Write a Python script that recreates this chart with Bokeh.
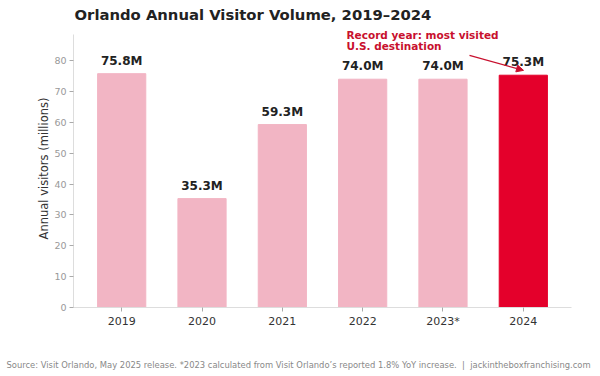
from bokeh.plotting import figure
from bokeh.models import Range1d, FixedTicker, ColumnDataSource, Label, Arrow, NormalHead, Title
from bokeh.embed import file_html
from bokeh.resources import INLINE
from bokeh.core.properties import value

years = ["2019", "2020", "2021", "2022", "2023*", "2024"]
visitors = [75.8, 35.3, 59.3, 74.0, 74.0, 75.3]
labels = ["75.8M", "35.3M", "59.3M", "74.0M", "74.0M", "75.3M"]
colors = ["#f2b5c4", "#f2b5c4", "#f2b5c4", "#f2b5c4", "#f2b5c4", "#e4002b"]
yticks = [0, 10, 20, 30, 40, 50, 60, 70, 80]

title_text = "Orlando Annual Visitor Volume, 2019\u20132024"
source_text = ("Source: Visit Orlando, May 2025 release. *2023 calculated from Visit Orlando\u2019s "
               "reported 1.8% YoY increase.\u00a0 |\u00a0 jackintheboxfranchising.com")
annotation_lines = ["Record year: most visited", "U.S. destination"]

xs = list(range(len(years)))
src = ColumnDataSource(dict(x=xs, top=visitors, color=colors, label=labels))

FONT = "DejaVu Sans"
# frame: x 73..571, y 28..307 (canvas px)
FL, FR, FT, FB = 73, 571, 28, 307
X0, X1, Y0 = -0.6, 5.6, 0
AX_TOP = 88.5
Y1 = AX_TOP * (FB - FT) / (FB - 33)

p = figure(width=600, height=376, output_backend="svg", toolbar_location=None,
           x_range=Range1d(X0, X1), y_range=Range1d(Y0, Y1),
           min_border_left=FL, min_border_right=600 - FR, min_border_top=FT,
           min_border_bottom=376 - FB)
p.background_fill_color = "white"
p.border_fill_color = "white"
p.outline_line_color = None
p.grid.visible = False

def dx(px):
    return X0 + (px - FL) * (X1 - X0) / (FR - FL)

def dy(py):
    return Y0 + (FB - py) * (Y1 - Y0) / (FB - FT)

p.title.text = title_text
p.title.text_font = FONT
p.title.text_font_size = "14.8px"
p.title.text_font_style = "bold"
p.title.text_color = "#222222"
p.title.align = "left"
p.title.offset = 1
p.title.vertical_align = "top"

p.vbar(x="x", top="top", width=0.6, color="color", source=src)
p.text(x="x", y="top", text="label", source=src, text_align="center", text_baseline="bottom",
       y_offset=-6, text_font=value(FONT), text_font_size="12px", text_font_style="bold",
       text_color="#222222")

# x axis
p.xaxis.ticker = FixedTicker(ticks=xs)
p.xaxis.major_label_overrides = {i: y for i, y in enumerate(years)}
p.xaxis.major_label_text_font = FONT
p.xaxis.major_label_text_font_size = "11px"
p.xaxis.major_label_text_color = "#333333"
p.xaxis.major_label_standoff = 3
p.xaxis.axis_line_color = "#dddddd"
p.xaxis.major_tick_line_color = "#aaaaaa"
p.xaxis.major_tick_out = 4
p.xaxis.major_tick_in = 0
p.xaxis.minor_tick_line_color = None

# y axis
p.yaxis.ticker = FixedTicker(ticks=yticks)
p.yaxis.bounds = (Y0, AX_TOP)
p.yaxis.major_label_text_font = FONT
p.yaxis.major_label_text_font_size = "9.5px"
p.yaxis.major_label_text_color = "#999999"
p.yaxis.major_label_standoff = 3
p.yaxis.axis_line_color = "#dddddd"
p.yaxis.major_tick_line_color = "#aaaaaa"
p.yaxis.major_tick_out = 4
p.yaxis.major_tick_in = 0
p.yaxis.minor_tick_line_color = None
p.yaxis.axis_label = "Annual visitors (millions)"
p.yaxis.axis_label_text_font = FONT
p.yaxis.axis_label_text_font_size = "11.5px"
p.yaxis.axis_label_text_font_style = "normal"
p.yaxis.axis_label_text_color = "#333333"
p.yaxis.axis_label_standoff = 0

ann_color = "#c8102e"
for txt, py in zip(annotation_lines, [39.5, 51.0]):
    p.add_layout(Label(x=dx(346), y=dy(py), text=txt, text_font=FONT, text_font_size="10.5px",
                       text_font_style="bold", text_color=ann_color, text_baseline="bottom"))
p.add_layout(Arrow(x_start=dx(469), y_start=dy(54), x_end=dx(523), y_end=dy(69),
                   line_color=ann_color, line_width=1.3,
                   end=NormalHead(size=7, fill_color=ann_color, line_color=ann_color)))

spacer = Title(text="\u00a0", text_font_size="1px", standoff=24)
p.add_layout(spacer, "below")
src_title = Title(text=source_text, text_font=FONT, text_font_size="8.4px",
                  text_font_style="normal", text_color="#888888", align="left",
                  offset=6 - FL, standoff=0)
p.add_layout(src_title, "below")

open("out.html", "w").write(file_html(p, INLINE))
